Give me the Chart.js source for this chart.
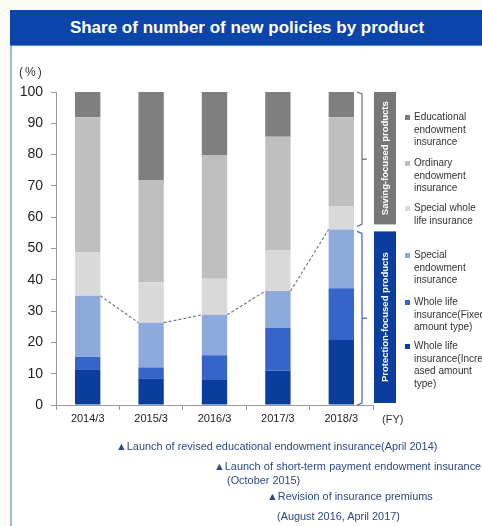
<!DOCTYPE html>
<html>
<head>
<meta charset="utf-8">
<script src="https://cdn.jsdelivr.net/npm/chart.js@4.4.1/dist/chart.umd.min.js"></script>
<style>
  body { margin: 0; background: #fbfcf6; font-family: "Liberation Sans", Arial, sans-serif; }
  #wrap { position: relative; width: 482px; height: 526px; overflow: hidden; }
  #panel { position: absolute; left: 10px; top: 46px; width: 472px; height: 480px; background: #fff; border-left: 2px solid #9bbbe6; box-sizing: border-box; }
  #title { position: absolute; left: 10px; top: 10px; width: 472px; height: 36px; background: #0b44aa; border-bottom: 1px solid #5a86d6; box-sizing: border-box;
           color: #fff; font-weight: bold; font-size: 17px; line-height: 35px; text-align: center; text-indent: 2px; }
  #chart { position: absolute; left: 0; top: 0; }
  #unit { position: absolute; left: 19px; top: 65px; font-size: 12px; color: #333; letter-spacing: 2px; }
  #fy { position: absolute; left: 382px; top: 413px; font-size: 11px; color: #333; }
  #legend { position: absolute; left: 405px; top: 0; font-size: 10px; color: #333; line-height: 12.5px; }
  .item { position: absolute; left: 0; white-space: nowrap; }
  .item i { position: absolute; left: 0; top: 4px; width: 5px; height: 5px; }
  .item span { display: block; padding-left: 9px; }
  .note { position: absolute; font-size: 10.9px; color: #2b4a86; white-space: nowrap; }
</style>
</head>
<body>
<div id="wrap">
  <div id="panel"></div>
  <div id="title">Share of number of new policies by product</div>
  <canvas id="chart" width="482" height="526"></canvas>
  <div id="unit">(%)</div>
  <div id="fy">(FY)</div>
  <div id="legend"></div>
  <div class="note" style="left:116px;top:440px">&#9650;Launch of revised educational endowment insurance(April 2014)</div>
  <div class="note" style="left:214px;top:460px;word-spacing:0.3px">&#9650;Launch of short-term payment endowment insurance</div>
  <div class="note" style="left:227px;top:474px">(October 2015)</div>
  <div class="note" style="left:267px;top:490px">&#9650;Revision of insurance premiums</div>
  <div class="note" style="left:277px;top:510px">(August 2016, April 2017)</div>
</div>
<script>
const years = ['2014/3', '2015/3', '2016/3', '2017/3', '2018/3'];

// protection-focused products (bottom three)
const wholeLifeIncreased = [11.2, 8.5, 8.0, 11.0, 20.8];
const wholeLifeFixed = [4.2, 3.5, 7.9, 13.7, 16.5];
const specialEndowment = [19.5, 14.3, 12.9, 11.7, 18.8];
// saving-focused products (top three)
const specialWholeLife = [13.8, 12.9, 11.5, 13.1, 7.3];
const ordinaryEndowment = [43.2, 32.7, 39.6, 36.2, 28.5];
const educationalEndowment = [8.1, 28.1, 20.1, 14.3, 8.1];

const legendLines = {
  educational: ['Educational', 'endowment', 'insurance'],
  ordinary: ['Ordinary', 'endowment', 'insurance'],
  specialWhole: ['Special whole', 'life insurance'],
  specialEndow: ['Special', 'endowment', 'insurance'],
  fixed: ['Whole life', 'insurance(Fixed', 'amount type)'],
  increased: ['Whole life', 'insurance(Incre', 'ased amount', 'type)']
};
const legendTops = [111, 157, 202, 249, 296, 340];

const datasets = [
  { label: legendLines.increased, data: wholeLifeIncreased, backgroundColor: '#0b3d9e' },
  { label: legendLines.fixed, data: wholeLifeFixed, backgroundColor: '#3764c8' },
  { label: legendLines.specialEndow, data: specialEndowment, backgroundColor: '#8eaadd' },
  { label: legendLines.specialWhole, data: specialWholeLife, backgroundColor: '#d9d9d9' },
  { label: legendLines.ordinary, data: ordinaryEndowment, backgroundColor: '#bfbfbf' },
  { label: legendLines.educational, data: educationalEndowment, backgroundColor: '#7f7f7f' }
];

// legend, top to bottom = reverse stacking order
const legendEl = document.getElementById('legend');
datasets.slice().reverse().forEach((ds, i) => {
  const div = document.createElement('div');
  div.className = 'item';
  div.style.top = legendTops[i] + 'px';
  div.innerHTML = '<i style="background:' + ds.backgroundColor + '"></i><span>' + ds.label.join('<br>') + '</span>';
  legendEl.appendChild(div);
});

const PROTECTION_TOP = 2; // index of the top protection dataset

const extras = {
  id: 'extras',
  afterDatasetsDraw(chart) {
    const ctx = chart.ctx;
    const bars = chart.getDatasetMeta(PROTECTION_TOP).data;
    ctx.save();
    ctx.strokeStyle = '#7a7a7a';
    ctx.lineWidth = 1.2;
    ctx.setLineDash([3, 2]);
    for (let i = 0; i < bars.length - 1; i++) {
      const a = bars[i], b = bars[i + 1];
      ctx.beginPath();
      ctx.moveTo(a.x + a.width / 2, a.y);
      ctx.lineTo(b.x - b.width / 2, b.y);
      ctx.stroke();
    }
    ctx.restore();
  },
  afterDraw(chart) {
    const ctx = chart.ctx;
    const y = chart.scales.y;
    const last = chart.getDatasetMeta(PROTECTION_TOP).data[years.length - 1];
    const split = last.y;
    const top = y.getPixelForValue(100);
    const bottom = y.getPixelForValue(0);
    const bx = last.x + last.width / 2 + 8;

    const bracket = (y1, y2, color) => {
      const mid = (y1 + y2) / 2;
      ctx.strokeStyle = color;
      ctx.lineWidth = 1.2;
      ctx.beginPath();
      ctx.moveTo(bx - 5, y1);
      ctx.lineTo(bx, y1 + 2);
      ctx.lineTo(bx, y2 - 2);
      ctx.lineTo(bx - 5, y2);
      ctx.moveTo(bx, mid);
      ctx.lineTo(bx + 5, mid);
      ctx.stroke();
    };
    const box = (y1, y2, color, text) => {
      const x1 = bx + 12, w = 22;
      ctx.fillStyle = color;
      ctx.fillRect(x1, y1, w, y2 - y1);
      ctx.save();
      ctx.translate(x1 + w / 2, (y1 + y2) / 2);
      ctx.rotate(-Math.PI / 2);
      ctx.fillStyle = '#fff';
      ctx.font = 'bold 9.5px "Liberation Sans", Arial, sans-serif';
      ctx.textAlign = 'center';
      ctx.textBaseline = 'middle';
      ctx.fillText(text, 0, 0);
      ctx.restore();
    };
    ctx.save();
    bracket(top, split - 3, '#6f6f6f');
    bracket(split + 2, bottom, '#3a66c4');
    box(top, split - 5, '#777777', 'Saving-focused products');
    box(split + 2, bottom - 2, '#0b3d9e', 'Protection-focused products');
    ctx.restore();
  }
};

new Chart(document.getElementById('chart'), {
  type: 'bar',
  data: { labels: years, datasets: datasets },
  options: {
    responsive: false,
    animation: false,
    layout: { padding: { left: 0, top: 92, right: 109, bottom: 96 } },
    plugins: { legend: { display: false }, tooltip: { enabled: false } },
    datasets: { bar: { barPercentage: 0.4, categoryPercentage: 1 } },
    scales: {
      x: {
        stacked: true,
        grid: { drawOnChartArea: false, tickLength: 5, color: '#9a9a9a', offset: true },
        border: { color: '#9a9a9a' },
        ticks: { color: '#222', font: { size: 11, family: '"Liberation Sans", Arial' }, padding: 2 },
        afterFit: s => { s.height = 25; }
      },
      y: {
        stacked: true,
        min: 0,
        max: 100,
        grid: { drawOnChartArea: false, tickLength: 5, color: '#9a9a9a' },
        border: { color: '#9a9a9a' },
        ticks: { stepSize: 10, color: '#222', font: { size: 14, family: '"Liberation Sans", Arial' }, padding: 8 },
        afterFit: s => { s.width = 56; }
      }
    }
  },
  plugins: [extras]
});
</script>
</body>
</html>
